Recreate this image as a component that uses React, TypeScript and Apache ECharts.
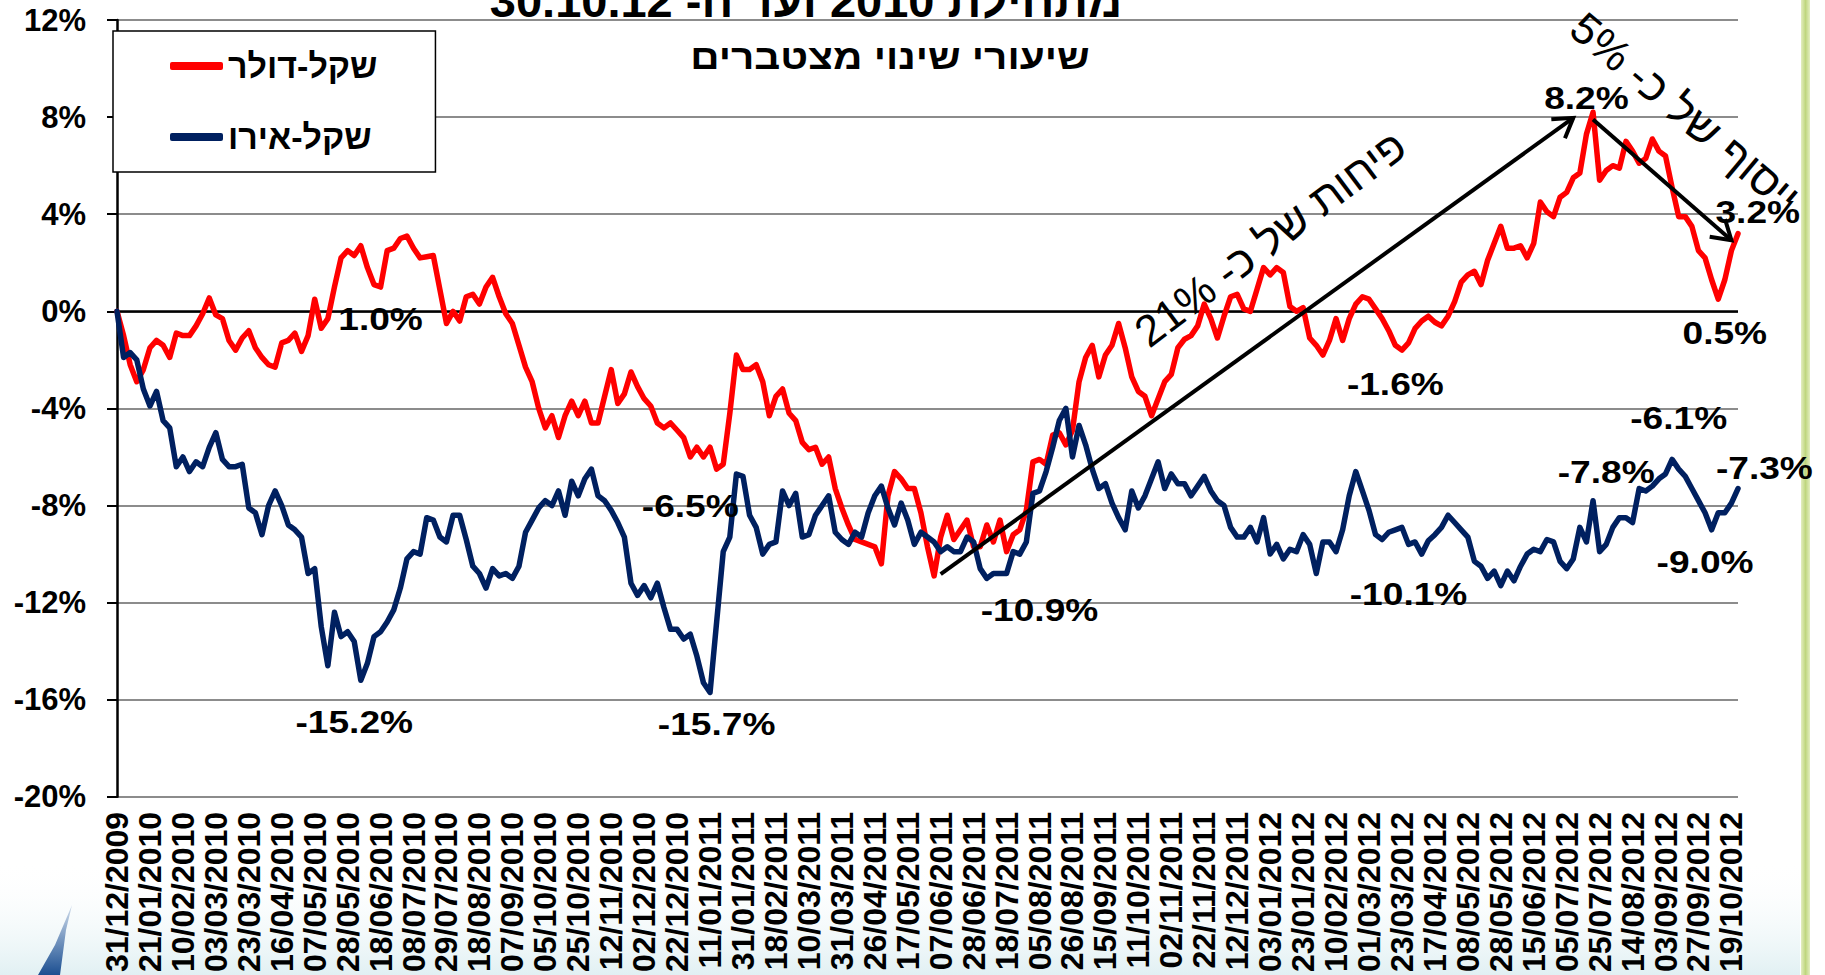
import React, { useEffect, useRef } from "react";
import * as echarts from "echarts";

const FONT = "'Liberation Sans', Arial, 'DejaVu Sans', sans-serif";

// x-axis tick labels (one every STEP points)
const tickLabels = [
  "31/12/2009", "21/01/2010", "10/02/2010", "03/03/2010", "23/03/2010", "16/04/2010", "07/05/2010", "28/05/2010",
  "18/06/2010", "08/07/2010", "29/07/2010", "18/08/2010", "07/09/2010", "05/10/2010", "25/10/2010", "12/11/2010",
  "02/12/2010", "22/12/2010", "11/01/2011", "31/01/2011", "18/02/2011", "10/03/2011", "31/03/2011", "26/04/2011",
  "17/05/2011", "07/06/2011", "28/06/2011", "18/07/2011", "05/08/2011", "26/08/2011", "15/09/2011", "11/10/2011",
  "02/11/2011", "22/11/2011", "12/12/2011", "03/01/2012", "23/01/2012", "10/02/2012", "01/03/2012", "23/03/2012",
  "17/04/2012", "08/05/2012", "28/05/2012", "15/06/2012", "05/07/2012", "25/07/2012", "14/08/2012", "03/09/2012",
  "27/09/2012", "19/10/2012",
];
const STEP = 5;

const seriesNames = ["שקל-דולר", "שקל-אירו"];

// cumulative change, shekel vs dollar (%)
const usdIls = [
  0, -1.0, -2.2, -2.9, -2.4, -1.5, -1.2, -1.4, -1.9, -0.9,
  -1.0, -1.0, -0.6, -0.1, 0.55, -0.15, -0.3, -1.2, -1.6, -1.1,
  -0.8, -1.5, -1.9, -2.2, -2.3, -1.3, -1.2, -0.9, -1.65, -1.0,
  0.5, -0.7, -0.3, 1.0, 2.2, 2.5, 2.3, 2.7, 1.8, 1.1,
  1.0, 2.5, 2.6, 3.0, 3.1, 2.6, 2.2, 2.25, 2.3, 0.9,
  -0.5, 0.0, -0.4, 0.6, 0.7, 0.3, 1.0, 1.4, 0.6, -0.1,
  -0.5, -1.4, -2.3, -2.9, -4.0, -4.8, -4.3, -5.2, -4.3, -3.7,
  -4.3, -3.7, -4.6, -4.6, -3.5, -2.4, -3.8, -3.4, -2.5, -3.1,
  -3.6, -3.9, -4.6, -4.8, -4.6, -4.9, -5.2, -6.0, -5.6, -6.0,
  -5.6, -6.5, -6.3, -4.2, -1.8, -2.4, -2.4, -2.2, -2.9, -4.3,
  -3.5, -3.2, -4.2, -4.5, -5.4, -5.7, -5.6, -6.3, -6.0, -7.3,
  -8.1, -8.8, -9.4, -9.5, -9.6, -9.7, -10.4, -7.6, -6.6, -6.9,
  -7.3, -7.3, -8.3, -9.7, -10.9, -9.3, -8.4, -9.4, -9.0, -8.6,
  -9.7, -9.7, -8.8, -9.5, -8.6, -9.9, -9.2, -9.0, -8.2, -6.2,
  -6.1, -6.3, -5.1, -5.0, -5.5, -4.9, -2.9, -1.9, -1.4, -2.7,
  -1.8, -1.4, -0.5, -1.5, -2.7, -3.3, -3.5, -4.3, -3.6, -2.9,
  -2.6, -1.5, -1.15, -1.0, -0.6, 0.3, -0.3, -1.1, -0.2, 0.6,
  0.7, 0.1, 0.0, 0.9, 1.8, 1.5, 1.8, 1.6, 0.2, 0.0,
  0.15, -1.1, -1.4, -1.8, -1.2, -0.3, -1.2, -0.3, 0.3, 0.6,
  0.5, 0.1, -0.3, -0.8, -1.4, -1.6, -1.3, -0.7, -0.4, -0.2,
  -0.45, -0.6, -0.2, 0.4, 1.2, 1.5, 1.65, 1.1, 2.1, 2.8,
  3.5, 2.6, 2.6, 2.7, 2.2, 2.8, 4.5, 4.1, 3.9, 4.7,
  4.9, 5.5, 5.7, 7.3, 8.2, 5.4, 5.8, 6.0, 5.9, 7.0,
  6.6, 6.1, 6.3, 7.1, 6.6, 6.4, 5.1, 3.9, 3.9, 3.5,
  2.5, 2.2, 1.3, 0.5, 1.3, 2.5, 3.2,
];

// cumulative change, shekel vs euro (%)
const eurIls = [
  0, -1.9, -1.7, -2.0, -3.2, -3.9, -3.3, -4.5, -4.8, -6.4,
  -6.0, -6.6, -6.2, -6.4, -5.6, -5.0, -6.1, -6.4, -6.4, -6.3,
  -8.1, -8.3, -9.2, -8.0, -7.4, -8.0, -8.8, -9.0, -9.3, -10.8,
  -10.6, -13.0, -14.6, -12.4, -13.4, -13.2, -13.6, -15.2, -14.5, -13.4,
  -13.2, -12.8, -12.3, -11.4, -10.2, -9.9, -10.0, -8.5, -8.6, -9.3,
  -9.5, -8.4, -8.4, -9.4, -10.5, -10.8, -11.4, -10.6, -10.9, -10.8,
  -11.0, -10.5, -9.1, -8.6, -8.1, -7.8, -8.0, -7.4, -8.4, -7.0,
  -7.6, -6.9, -6.5, -7.6, -7.8, -8.2, -8.7, -9.3, -11.2, -11.7,
  -11.3, -11.8, -11.2, -12.2, -13.1, -13.1, -13.5, -13.3, -14.2, -15.3,
  -15.7, -12.8, -9.9, -9.3, -6.7, -6.8, -8.4, -8.9, -10.0, -9.6,
  -9.5, -7.4, -8.0, -7.5, -9.3, -9.2, -8.4, -8.0, -7.6, -9.1,
  -9.4, -9.6, -9.1, -9.3, -8.3, -7.6, -7.2, -8.1, -8.8, -7.9,
  -8.6, -9.6, -9.1, -9.3, -9.5, -9.9, -9.7, -9.9, -9.9, -9.3,
  -9.5, -10.6, -11.0, -10.8, -10.8, -10.8, -9.9, -10.0, -9.5, -7.5,
  -7.4, -6.6, -5.6, -4.5, -4.0, -6.0, -4.7, -5.5, -6.5, -7.3,
  -7.1, -7.9, -8.5, -9.0, -7.4, -8.1, -7.6, -6.9, -6.2, -7.3,
  -6.7, -7.1, -7.1, -7.6, -7.2, -6.8, -7.4, -7.8, -8.0, -8.9,
  -9.3, -9.3, -8.9, -9.5, -8.5, -10.0, -9.6, -10.2, -9.8, -9.9,
  -9.2, -9.6, -10.8, -9.5, -9.5, -9.9, -9.0, -7.6, -6.6, -7.4,
  -8.2, -9.2, -9.4, -9.1, -9.0, -8.9, -9.6, -9.5, -10.0, -9.45,
  -9.2, -8.9, -8.4, -8.7, -9.0, -9.3, -10.3, -10.5, -11.0, -10.7,
  -11.3, -10.7, -11.1, -10.5, -10.0, -9.8, -9.9, -9.4, -9.5, -10.3,
  -10.6, -10.2, -8.9, -9.5, -7.8, -9.9, -9.6, -8.9, -8.5, -8.5,
  -8.7, -7.3, -7.4, -7.2, -6.9, -6.7, -6.1, -6.5, -6.8, -7.3,
  -7.8, -8.3, -9.0, -8.3, -8.3, -7.9, -7.3,
];

// y-axis scale
const yMin = -20;
const yMax = 12;
const yStep = 4;

// texts
const titleLine = "מתחילת 2010 ועד ה- 30.10.12";
const subTitle = "שיעורי שינוי מצטברים";

const calloutTexts = [
  "1.0%", "-15.2%", "-15.7%", "-6.5%", "-10.9%", "-1.6%", "-10.1%",
  "8.2%", "3.2%", "0.5%", "-6.1%", "-7.8%", "-7.3%", "-9.0%",
];
// callout centres, in data coordinates [index, %]
const calloutAt = [
  [40.2, -0.3], [35.5, -16.9], [90.5, -17.0], [87.2, -8.0], [140, -12.3], [193.8, -3.0], [196.4, -11.65],
  [222.9, 8.8], [249.3, 4.1], [244.2, -0.87], [236.9, -4.4], [225.8, -6.6], [250.1, -6.45], [241.4, -10.33],
];

const arrowFrom = [[125.2, -10.83], [223.7, 7.9]];
const arrowTo = [[221.2, 7.97], [244.5, 2.93]];

const noteTexts = ["פיחות של כ- 21%", "ייסוף של כ- 5%"];
const noteAt = [[175.3, 3.0], [237.6, 8.2]];
const noteAngleDeg = [37, -40];

export default function App() {
  const ref = useRef<HTMLDivElement>(null);

  useEffect(() => {
    if (!ref.current) return;
    const chart = echarts.init(ref.current, undefined, { renderer: "svg" });
    const categories = usdIls.map((_, i) => String(i));

    chart.setOption({
      animation: false,
      backgroundColor: "#ffffff",
      grid: { left: 117, right: 87, top: 20, bottom: 178, containLabel: false },
      legend: {
        orient: "vertical",
        left: 113,
        top: 31,
        padding: [18, 58, 18, 57],
        itemGap: 37,
        itemWidth: 53,
        itemHeight: 8,
        icon: "roundRect",
        backgroundColor: "#ffffff",
        borderColor: "#000000",
        borderWidth: 1.5,
        borderRadius: 0,
        z: 20,
        textStyle: { fontSize: 34, fontWeight: "bold", fontFamily: FONT, color: "#000", lineHeight: 34 },
        data: seriesNames,
      },
      xAxis: {
        type: "category",
        data: categories,
        boundaryGap: false,
        axisLine: { show: false },
        axisTick: { show: false },
        splitLine: { show: false },
        axisLabel: {
          interval: (i: number) => i % STEP === 0,
          formatter: (v: string) => {
            const n = Number(v);
            return n % STEP === 0 ? tickLabels[n / STEP] ?? "" : "";
          },
          rotate: 90,
          fontSize: 32,
          fontWeight: "bold",
          fontFamily: FONT,
          color: "#000",
          margin: 15,
        },
      },
      yAxis: {
        type: "value",
        min: yMin,
        max: yMax,
        interval: yStep,
        axisLine: { show: true, lineStyle: { color: "#000", width: 2.5 } },
        axisTick: { show: true, length: 10, lineStyle: { color: "#000", width: 2 } },
        axisLabel: {
          formatter: "{value}%",
          fontSize: 31,
          fontWeight: "bold",
          fontFamily: FONT,
          color: "#000",
          margin: 31,
        },
        splitLine: { show: true, lineStyle: { color: "#8c8c8c", width: 2 } },
      },
      series: [
        {
          type: "line",
          name: seriesNames[0],
          data: usdIls,
          symbol: "none",
          showSymbol: false,
          color: "#ff0000",
          lineStyle: { color: "#ff0000", width: 5.5, join: "round", cap: "round" },
          z: 3,
          markLine: {
            silent: true,
            symbol: "none",
            z: 1,
            label: { show: false },
            lineStyle: { color: "#000", width: 2.5, type: "solid" },
            data: [{ yAxis: 0 }],
          },
        },
        {
          type: "line",
          name: seriesNames[1],
          data: eurIls,
          symbol: "none",
          showSymbol: false,
          color: "#002060",
          lineStyle: { color: "#002060", width: 5.5, join: "round", cap: "round" },
          z: 4,
        },
      ],
    });

    const px = (p: number[]) => chart.convertToPixel({ gridIndex: 0 }, p) as number[];
    const els: any[] = [];

    // background decoration
    els.push({
      type: "rect",
      z: -1,
      shape: { x: 0, y: 860, width: 1800, height: 115 },
      style: {
        fill: new echarts.graphic.LinearGradient(0, 0, 0, 1, [
          { offset: 0, color: "rgba(255,255,255,0)" },
          { offset: 1, color: "rgba(205,230,235,0.6)" },
        ]),
      },
    });
    els.push({
      type: "polygon",
      z: -1,
      shape: { points: [[72, 905], [66, 930], [60, 975], [38, 975], [55, 945]] },
      style: {
        fill: new echarts.graphic.LinearGradient(0, 0, 0, 1, [
          { offset: 0, color: "rgba(40,90,160,0.2)" },
          { offset: 1, color: "#1d4f91" },
        ]),
      },
    });
    els.push({
      type: "rect",
      z: -1,
      shape: { x: 1801, y: 0, width: 9, height: 975 },
      style: {
        fill: new echarts.graphic.LinearGradient(0, 0, 1, 0, [
          { offset: 0, color: "#e3eec0" },
          { offset: 0.5, color: "#bfd67f" },
          { offset: 1, color: "#e3eec0" },
        ]),
      },
    });

    // titles
    els.push({
      type: "text",
      x: 806,
      y: 0,
      z: 30,
      style: {
        text: titleLine,
        fontSize: 47,
        fontWeight: "bold",
        fontFamily: FONT,
        fill: "#000",
        align: "center",
        verticalAlign: "middle",
      },
    });
    els.push({
      type: "text",
      x: 890,
      y: 57,
      scaleX: 1.16,
      z: 30,
      style: {
        text: subTitle,
        fontSize: 35,
        fontWeight: "bold",
        fontFamily: FONT,
        fill: "#000",
        align: "center",
        verticalAlign: "middle",
      },
    });

    // callouts
    calloutTexts.forEach((t, k) => {
      const [x, y] = px(calloutAt[k]);
      els.push({
        type: "text",
        x,
        y,
        scaleX: 1.16,
        z: 30,
        style: {
          text: t,
          fontSize: 32,
          fontWeight: "bold",
          fontFamily: FONT,
          fill: "#000",
          align: "center",
          verticalAlign: "middle",
        },
      });
    });

    // arrows
    arrowFrom.forEach((a, k) => {
      const A = px(a);
      const B = px(arrowTo[k]);
      const dx = B[0] - A[0];
      const dy = B[1] - A[1];
      const len = Math.hypot(dx, dy);
      const ux = dx / len;
      const uy = dy / len;
      const L = 22;
      const ang = (32 * Math.PI) / 180;
      const h1 = [
        B[0] - L * (ux * Math.cos(ang) - uy * Math.sin(ang)),
        B[1] - L * (uy * Math.cos(ang) + ux * Math.sin(ang)),
      ];
      const h2 = [
        B[0] - L * (ux * Math.cos(-ang) - uy * Math.sin(-ang)),
        B[1] - L * (uy * Math.cos(-ang) + ux * Math.sin(-ang)),
      ];
      els.push({
        type: "line",
        z: 25,
        shape: { x1: A[0], y1: A[1], x2: B[0], y2: B[1] },
        style: { stroke: "#000", lineWidth: 4, lineCap: "butt" },
      });
      els.push({
        type: "polyline",
        z: 25,
        shape: { points: [h1, B, h2] },
        style: { stroke: "#000", fill: null, lineWidth: 4, lineJoin: "miter" },
      });
    });

    // rotated notes
    noteTexts.forEach((t, k) => {
      const [x, y] = px(noteAt[k]);
      els.push({
        type: "text",
        x,
        y,
        rotation: (noteAngleDeg[k] * Math.PI) / 180,
        z: 30,
        style: {
          text: t,
          fontSize: 44,
          fontWeight: "normal",
          fontFamily: FONT,
          fill: "#000",
          align: "center",
          verticalAlign: "middle",
        },
      });
    });

    chart.setOption({ graphic: { elements: els } });

    return () => chart.dispose();
  }, []);

  return (
    <div
      ref={ref}
      style={{ position: "fixed", left: 0, top: 0, width: 1825, height: 975, background: "#fff" }}
    />
  );
}
